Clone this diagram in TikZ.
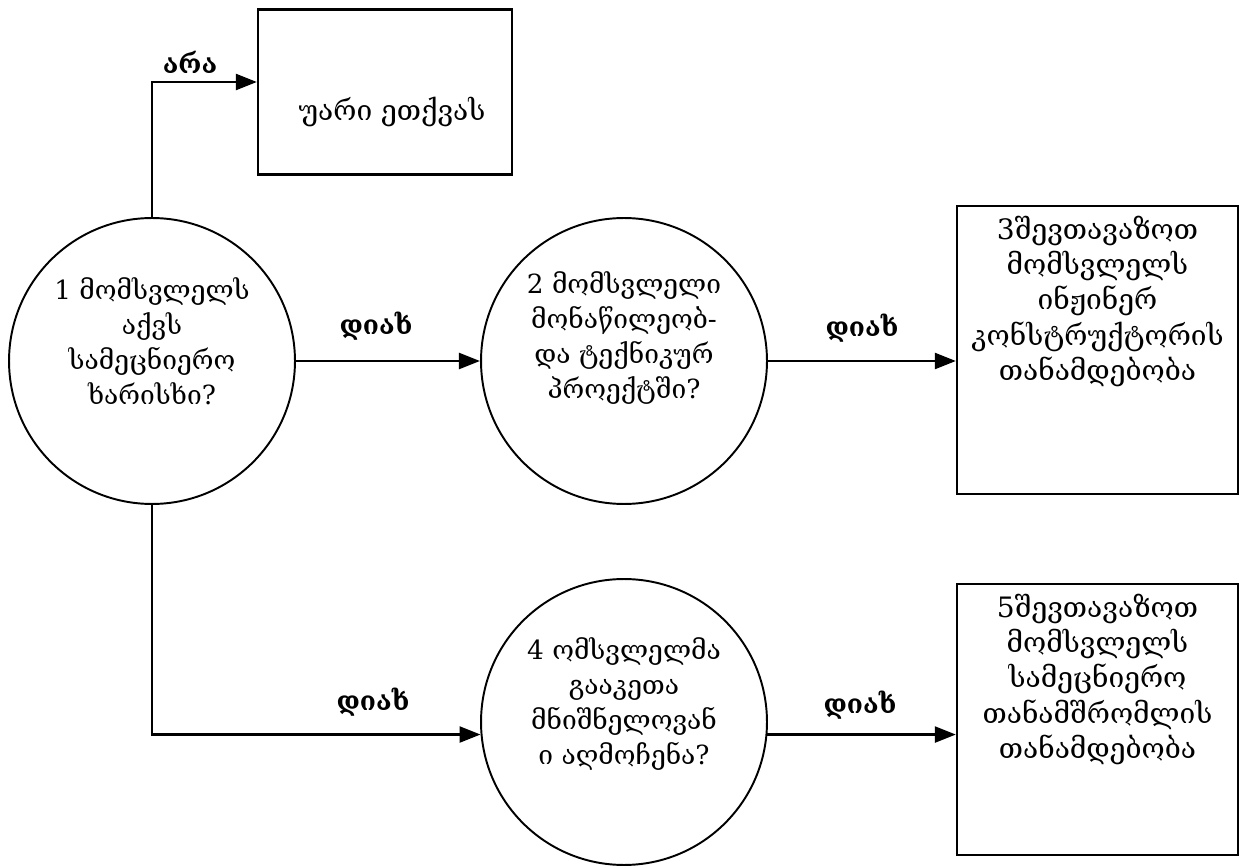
\documentclass[tikz,border=0pt]{standalone}
\usepackage{fontspec}
\setmainfont{DejaVu Serif}
\usetikzlibrary{arrows.meta}

\begin{document}
\begin{tikzpicture}[x=0.02cm,y=-0.02cm,
  qnode/.style={draw,circle,line width=1.1pt,minimum size=5.72cm,inner sep=0pt},
  qtext/.style={align=center,font=\fontsize{15}{20}\selectfont},
  rnode/.style={draw,rectangle,line width=1.3pt,inner sep=0pt},
  rtext/.style={align=center,font=\fontsize{16}{20}\selectfont},
  anslbl/.style={font=\bfseries\fontsize{15}{18}\selectfont},
  arr/.style={-{Triangle[length=12pt,width=9pt]},line width=1.7pt}]

\useasboundingbox (0,0) rectangle (1242,868);

%% question circles
\node[qnode,label={[qtext,yshift=0.4cm]center:{1 მომსვლელს\\აქვს\\სამეცნიერო\\ხარისხი?}}]
  (q1) at (152,361) {};
\node[qnode,label={[qtext,yshift=0.46cm]center:{2 მომსვლელი\\მონაწილეობ-\\და ტექნიკურ\\პროექტში?}}]
  (q2) at (624,361) {};
\node[qnode,label={[qtext,yshift=0.36cm]center:{4 ომსვლელმა\\გააკეთა\\მნიშნელოვან\\ი აღმოჩენა?}}]
  (q4) at (624,722) {};

%% result boxes
\node[rnode,minimum width=5.08cm,minimum height=3.3cm,
  label={[rtext,xshift=0.14cm,yshift=-0.4cm]center:{უარი ეთქვას}}] (rej) at (385,92) {};
\node[rnode,minimum width=5.62cm,minimum height=5.76cm,
  label={[rtext,anchor=north,yshift=-3pt]north:{3შევთავაზოთ\\მომსვლელს\\ინჟინერ\\კონსტრუქტორის\\თანამდებობა}}]
  (off3) at (1097.5,350) {};
\node[rnode,minimum width=5.62cm,minimum height=5.42cm,
  label={[rtext,anchor=north,yshift=-3pt]north:{5შევთავაზოთ\\მომსვლელს\\სამეცნიერო\\თანამშრომლის\\თანამდებობა}}]
  (off5) at (1097.5,719.5) {};

%% answers
\node[anslbl] (lno)   at (190,62)  {არა};
\node[anslbl] (lyes1) at (376,326) {დიახ};
\node[anslbl] (lyes2) at (862,328) {დიახ};
\node[anslbl] (lyes3) at (373,702) {დიახ};
\node[anslbl] (lyes4) at (860,705) {დიახ};

\draw[arr] (q1.north) |- ([yshift=0.2cm]rej.west);
\draw[arr] (q1) -- (q2);
\draw[arr] (q2) -- (q2 -| off3.west);
\draw[arr] (q1.south) |- (q4.185);
\draw[arr] (q4.355) -- (q4.355 -| off5.west);
\end{tikzpicture}
\end{document}
